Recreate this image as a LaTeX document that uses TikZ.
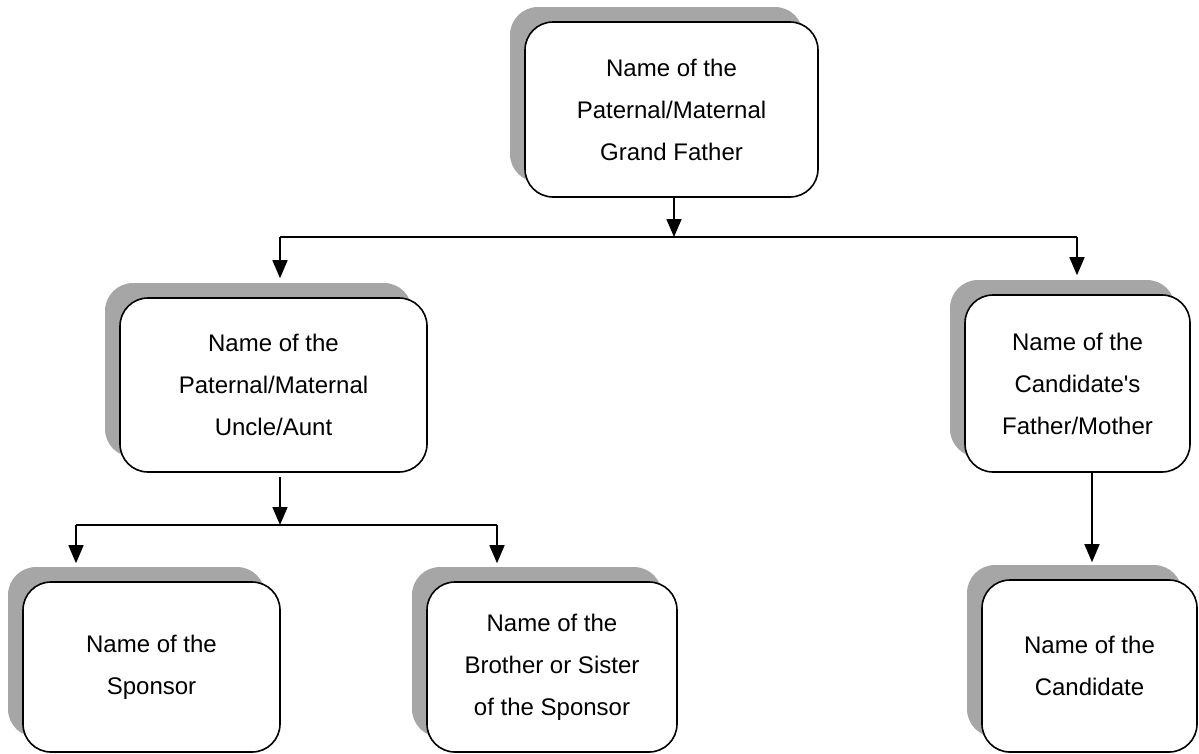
\documentclass[tikz,border=0pt]{standalone}
\usepackage{fontspec}
\setmainfont{Liberation Sans}
\newfontfamily\famfont{Liberation Sans}
\usetikzlibrary{arrows.meta,shadows}
\begin{document}
\begin{tikzpicture}[x=1pt,y=-1pt,
  famnode/.style={draw=black, line width=1.6pt, rounded corners=28pt, fill=white,
    align=center, inner sep=0pt,
    font=\famfont\fontsize{24}{42}\selectfont,
    general shadow={fill=black!35, shadow xshift=-15pt, shadow yshift=15pt}},
  conn/.style={line width=1.6pt, draw=black},
  arr/.style={conn, -{Triangle[length=18pt,width=15pt]}}
]
\useasboundingbox (0,0) rectangle (1199,753);
\fill[white] (0,0) rectangle (1199,753);

\node[famnode, minimum width=293pt, minimum height=175pt] (gf) at (671.5,109.5)
  {Name of the\\Paternal/Maternal\\Grand Father};
\node[famnode, minimum width=307pt, minimum height=174pt] (uncle) at (273.5,385)
  {Name of the\\Paternal/Maternal\\Uncle/Aunt};
\node[famnode, minimum width=225pt, minimum height=177pt] (parent) at (1077.5,383.5)
  {Name of the\\Candidate's\\Father/Mother};
\node[famnode, minimum width=257pt, minimum height=170pt] (sponsor) at (151.5,667)
  {Name of the\\Sponsor};
\node[famnode, minimum width=250pt, minimum height=170pt] (sibling) at (552,667)
  {Name of the\\Brother or Sister\\of the Sponsor};
\node[famnode, minimum width=215pt, minimum height=172pt] (cand) at (1089.5,666)
  {Name of the\\Candidate};

% grandfather to split
\coordinate (j1) at (674,237);
\coordinate (jL) at (280,237);
\coordinate (jR) at (1077,237);
\draw[arr] (gf.south -| j1) -- (j1);
\draw[conn] (jL) -- (jR);
\draw[arr] (jL) -- ([yshift=19pt]uncle.north -| jL);
\draw[arr] (jR) -- ([yshift=19pt]parent.north -| jR);

% uncle to children
\coordinate (u0) at (280,477);
\coordinate (j2) at (280,525);
\coordinate (kL) at (76,525);
\coordinate (kR) at (497,525);
\draw[arr] (u0) -- (j2);
\draw[conn] (kL) -- (kR);
\draw[arr] (kL) -- ([yshift=18pt]sponsor.north -| kL);
\draw[arr] (kR) -- ([yshift=18pt]sibling.north -| kR);

% parent to candidate
\coordinate (p0) at (1092,472);
\draw[arr] (p0) -- ([yshift=17pt]cand.north -| p0);
\end{tikzpicture}
\end{document}
